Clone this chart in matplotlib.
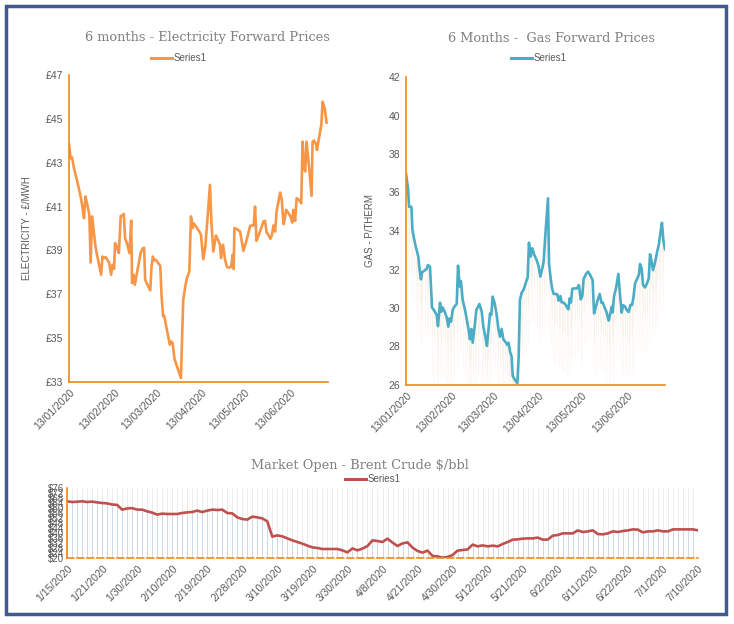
import pandas as pd
import matplotlib.pyplot as plt
import matplotlib.dates as mdates
from matplotlib.patches import Rectangle
from matplotlib.lines import Line2D
import numpy as np

# electricity forward prices (days after 13/01/2020, £/MWh)
elec_day = [0.0, 1.1, 2.1, 3.4, 5.7, 8.0, 9.2, 10.3, 11.3, 12.6, 14.0, 14.9, 15.9, 17.2, 18.2,
            19.5, 20.7, 22.1, 23.0, 24.1, 25.3, 26.4, 27.6, 29.0, 29.9, 31.0, 31.7, 32.9, 34.3,
            35.6, 36.8, 37.7, 38.6, 40.2, 41.6, 42.8, 43.4, 44.4, 45.3, 46.7, 48.0, 49.4, 50.8,
            51.7, 52.4, 54.0, 55.9, 56.8, 57.7, 58.6, 59.8, 61.4, 62.8, 63.7, 64.8, 65.5, 67.1,
            68.5, 69.4, 70.1, 71.3, 72.6, 74.7, 77.0, 78.6, 80.0, 81.1, 82.8, 83.9, 85.1, 85.7,
            87.4, 89.7, 90.8, 92.4, 93.8, 95.4, 97.0, 97.9, 99.3, 101.1, 102.5, 103.9, 104.6,
            106.0, 107.4, 108.7, 110.3, 111.5, 112.6, 113.3, 113.8, 115.6, 117.7, 120.0, 121.4,
            123.0, 124.6, 126.0, 127.1, 128.0, 129.0, 130.6, 132.2, 133.8, 134.9, 135.9, 137.2,
            138.6, 139.5, 140.7, 141.8, 142.8, 144.1, 145.3, 146.4, 147.6, 148.3, 149.4, 151.0,
            152.4, 153.6, 154.3, 155.6, 156.6, 158.2, 159.8, 160.7, 161.6, 162.5, 163.4, 165.3,
            166.9, 167.6, 168.5, 169.9, 170.6, 171.7, 173.6, 174.5, 175.9, 177.2]
elec_price = [43.86, 43.20, 43.25, 42.75, 42.14, 41.46, 41.00, 40.47, 41.46, 41.08, 40.62, 38.45,
              40.55, 39.79, 39.18, 38.72, 38.34, 37.89, 38.72, 38.65, 38.69, 38.57, 38.45, 37.89,
              38.34, 38.16, 39.33, 39.18, 38.88, 40.58, 40.58, 40.67, 39.56, 39.26, 38.88, 40.36,
              37.51, 37.89, 37.43, 37.96, 38.42, 38.91, 39.10, 39.12, 37.66, 37.43, 37.18, 38.27,
              38.72, 38.54, 38.57, 38.42, 38.30, 36.90, 35.99, 36.02, 35.46, 35.00, 34.70, 34.85,
              34.78, 34.05, 33.64, 33.18, 36.75, 37.36, 37.74, 38.04, 40.55, 40.02, 40.24, 40.09,
              39.86, 39.71, 38.60, 39.18, 40.55, 41.99, 40.39, 38.95, 39.68, 39.48, 39.26, 38.65,
              39.26, 38.57, 38.24, 38.22, 38.24, 38.80, 38.15, 40.02, 39.97, 39.86, 38.98, 39.29,
              39.68, 40.12, 40.14, 40.14, 41.00, 39.44, 39.71, 40.02, 40.32, 40.35, 39.83, 39.71,
              39.53, 39.68, 40.14, 39.86, 40.77, 41.23, 41.64, 41.31, 40.20, 40.39, 40.85, 40.70,
              40.55, 40.27, 40.85, 40.35, 41.38, 41.31, 41.15, 43.96, 42.85, 42.60, 43.96, 42.72,
              41.49, 43.96, 44.01, 43.86, 43.58, 44.01, 44.72, 45.78, 45.48, 44.83]

# gas forward prices (days after 13/01/2020, p/therm)
gas_day = [0.0, 1.4, 2.1, 3.7, 4.4, 5.5, 6.7, 7.6, 8.5, 9.4, 10.3, 11.0, 13.1, 14.2, 15.1, 16.5,
           17.9, 19.5, 21.1, 22.0, 23.4, 24.3, 25.2, 26.6, 28.0, 29.1, 30.0, 31.0, 32.1, 33.3,
           34.9, 35.8, 36.9, 37.8, 39.0, 40.6, 41.7, 43.1, 44.0, 45.0, 45.9, 47.2, 48.4, 49.3,
           50.5, 52.1, 53.2, 54.6, 55.7, 56.7, 57.8, 58.7, 59.6, 61.0, 62.4, 63.5, 64.7, 65.8,
           67.0, 68.3, 69.7, 70.6, 71.6, 72.7, 73.4, 75.0, 76.6, 77.5, 78.4, 79.6, 81.0, 82.3,
           83.7, 84.6, 85.8, 86.9, 88.3, 89.9, 91.3, 92.4, 93.8, 94.7, 96.1, 97.7, 98.4, 99.5,
           100.5, 101.6, 102.8, 104.1, 105.0, 106.2, 107.1, 108.3, 109.6, 110.8, 111.7, 112.6,
           113.5, 114.4, 116.3, 117.7, 119.0, 120.2, 121.3, 122.2, 123.9, 125.2, 126.6, 128.4,
           129.4, 130.7, 131.9, 133.3, 134.4, 135.3, 136.7, 138.1, 139.4, 140.6, 141.5, 142.2,
           143.1, 144.5, 146.1, 147.2, 148.4, 149.3, 150.5, 151.8, 153.2, 154.4, 155.5, 156.4,
           157.6, 159.2, 160.3, 161.0, 162.2, 163.1, 164.4, 165.8, 167.0, 167.9, 169.0, 169.9,
           171.1, 172.0, 172.9, 173.9, 175.0, 176.1, 177.1, 178.2]
gas_price = [36.96, 36.22, 35.26, 35.26, 34.09, 33.62, 33.19, 32.93, 32.67, 31.97, 31.49, 31.85,
             31.97, 32.03, 32.23, 32.15, 30.03, 29.86, 29.64, 29.06, 30.28, 29.81, 30.03, 29.81,
             29.52, 29.03, 29.46, 29.29, 29.90, 30.07, 30.21, 32.20, 31.11, 31.40, 30.42, 29.90,
             29.46, 28.86, 28.37, 28.91, 28.20, 29.03, 29.90, 30.03, 30.21, 29.81, 29.03, 28.51,
             28.03, 28.86, 29.72, 29.64, 30.59, 30.24, 29.64, 28.94, 28.51, 28.91, 28.37, 28.25,
             28.08, 28.20, 27.73, 27.47, 26.47, 26.26, 26.09, 27.44, 30.42, 30.80, 30.97, 31.28,
             31.59, 33.39, 32.67, 33.10, 32.75, 32.49, 32.15, 31.63, 32.06, 32.41, 34.05, 35.70,
             32.32, 31.54, 31.02, 30.73, 30.73, 30.71, 30.38, 30.62, 30.29, 30.29, 30.19, 30.03,
             29.93, 30.50, 30.29, 31.00, 31.02, 31.02, 31.19, 30.45, 30.62, 31.51, 31.77, 31.89,
             31.73, 31.45, 29.72, 30.07, 30.42, 30.73, 30.28, 30.29, 30.03, 29.76, 29.34, 29.72,
             30.07, 29.77, 30.59, 31.02, 31.77, 30.73, 29.76, 30.14, 30.10, 29.90, 29.79, 30.16,
             30.16, 30.50, 31.28, 31.54, 31.75, 32.29, 32.03, 31.19, 31.07, 31.28, 31.54, 32.79,
             32.41, 31.97, 32.29, 32.61, 32.96, 33.27, 33.88, 34.43, 33.50, 33.05]

# brent crude at market open, $/bbl
brent = [65.4, 64.8, 65.0, 65.4, 64.8, 65.1, 64.5, 64.0, 63.7, 62.8, 62.5, 58.7, 59.6, 59.9,
         58.7, 58.7, 57.3, 56.3, 54.7, 55.5, 55.2, 55.2, 55.2, 56.0, 56.5, 56.8, 57.9, 56.8,
         57.9, 58.7, 58.4, 58.7, 56.0, 55.7, 52.5, 51.2, 50.7, 53.1, 52.5, 51.7, 49.3, 37.1,
         38.1, 37.3, 35.7, 34.1, 32.8, 31.5, 29.9, 28.5, 28.0, 27.2, 27.2, 27.2, 27.2, 26.1,
         24.5, 27.7, 26.1, 27.5, 29.6, 34.1, 33.6, 32.8, 35.5, 32.3, 29.6, 31.7, 32.5, 28.3,
         25.6, 24.3, 25.9, 21.6, 21.3, 20.3, 20.8, 22.4, 25.9, 26.4, 26.9, 30.7, 29.3, 30.1,
         29.3, 29.9, 29.3, 31.2, 32.8, 34.7, 34.9, 35.5, 35.7, 35.7, 36.3, 34.7, 34.7, 37.9,
         38.4, 39.7, 39.7, 39.7, 42.1, 40.8, 41.3, 42.1, 39.2, 38.9, 39.7, 41.3, 40.8, 41.6,
         42.1, 42.9, 42.7, 40.5, 41.3, 41.3, 42.1, 41.3, 41.3, 42.9, 42.9, 42.9, 42.9, 42.9,
         42.1]
brent_labels = ['1/15/2020', '1/21/2020', '1/30/2020', '2/10/2020', '2/19/2020', '2/28/2020',
                '3/10/2020', '3/19/2020', '3/30/2020', '4/8/2020', '4/21/2020', '4/30/2020',
                '5/12/2020', '5/21/2020', '6/2/2020', '6/11/2020', '6/22/2020', '7/1/2020',
                '7/10/2020']

start = pd.Timestamp('2020-01-13')
elec_dates = start + pd.to_timedelta(elec_day, unit='D')
gas_dates = start + pd.to_timedelta(gas_day, unit='D')
month_ticks = pd.date_range('2020-01-13', periods=6, freq=pd.DateOffset(months=1))
x_end = start + pd.Timedelta(days=178.2)

plt.rcParams['font.family'] = ['Liberation Sans', 'DejaVu Sans']
grey_txt = '#595959'
title_col = '#808080'
axis_orange = '#ee8a12'

fig = plt.figure(figsize=(7.34, 6.24), dpi=100)
W, H = 734, 624
fig.patches.append(Rectangle((6 / W, 1 - 614 / H), 720 / W, 608 / H, transform=fig.transFigure,
                             fill=False, edgecolor='#3d5d8f', linewidth=2.5))


def px_axes(l, t, r, b):
    return fig.add_axes([l / W, 1 - b / H, (r - l) / W, (b - t) / H])


def style(ax, dashed=False):
    for s in ['top', 'right']:
        ax.spines[s].set_visible(False)
    ax.spines['left'].set_color(axis_orange)
    ax.spines['bottom'].set_color(axis_orange)
    ax.spines['left'].set_linewidth(1.2)
    ax.spines['bottom'].set_linewidth(1.2)
    if dashed:
        ax.spines['bottom'].set_linestyle((0, (4, 2)))
    ax.tick_params(length=0, labelsize=7.5, labelcolor=grey_txt, pad=4)


def legend_at(x, y, color):
    fig.add_artist(Line2D([(x - 22) / W, (x - 1) / W], [1 - y / H, 1 - y / H], color=color, lw=2.2))
    fig.text((x + 1) / W, 1 - y / H, 'Series1', fontsize=7, color=grey_txt, va='center', ha='left')


# electricity
ax1 = px_axes(69, 75, 328, 382)
ax1.plot(elec_dates, elec_price, color='#f79646', lw=1.9)
ax1.set_ylim(33, 47)
ax1.set_yticks(range(33, 48, 2))
ax1.set_yticklabels(['£%d' % v for v in range(33, 48, 2)])
ax1.set_xlim(start, x_end)
ax1.set_xticks(month_ticks)
ax1.xaxis.set_major_formatter(mdates.DateFormatter('%d/%m/%Y'))
plt.setp(ax1.get_xticklabels(), rotation=45, ha='right', rotation_mode='anchor')
ax1.set_ylabel('ELECTRICITY - £/MWH', fontsize=7, color=grey_txt, labelpad=10)
style(ax1)
fig.text(207 / W, 1 - 37 / H, '6 months - Electricity Forward Prices', fontsize=9.3,
         family='DejaVu Serif', color=title_col, ha='center', va='center')
legend_at(173, 58, '#f79646')

# gas
ax2 = px_axes(406, 77, 665, 385)
for d, v in zip(gas_dates, gas_price):
    ax2.plot([d, d], [v, v - 1.5], color='#f3dcc6', lw=0.6, alpha=0.4)
    ax2.plot([d, d], [v - 1.5, v - 3.5], color='#f3dcc6', lw=0.6, alpha=0.18)
ax2.plot(gas_dates, gas_price, color='#4bacc6', lw=1.9)
ax2.set_ylim(26, 42)
ax2.set_yticks(range(26, 43, 2))
ax2.set_xlim(start, x_end)
ax2.set_xticks(month_ticks)
ax2.xaxis.set_major_formatter(mdates.DateFormatter('%d/%m/%Y'))
plt.setp(ax2.get_xticklabels(), rotation=45, ha='right', rotation_mode='anchor')
ax2.set_ylabel('GAS - P/THERM', fontsize=7, color=grey_txt, labelpad=10)
style(ax2)
fig.text(552 / W, 1 - 38 / H, '6 Months -  Gas Forward Prices', fontsize=9.3,
         family='DejaVu Serif', color=title_col, ha='center', va='center')
legend_at(533, 58, '#4bacc6')

# brent
ax3 = px_axes(67, 488, 698, 558)
xb = np.arange(len(brent))
ax3.vlines(xb, brent, 76, color='#ebebeb', lw=0.7)
ax3.vlines(xb, 20, brent, color='#ccd9e8', lw=0.7)
ax3.plot(xb, brent, color='#c0504d', lw=1.9)
ax3.set_ylim(20, 76)
ax3.set_yticks(range(20, 77, 4))
ax3.set_yticklabels(['$%d' % v for v in range(20, 77, 4)])
ax3.set_xlim(0, len(brent) - 1)
ax3.set_xticks(xb[::7])
ax3.set_xticklabels(brent_labels, rotation=45, ha='right', rotation_mode='anchor')
style(ax3, dashed=True)
ax3.tick_params(axis='y', pad=2, labelsize=7)
fig.text(360 / W, 1 - 465 / H, 'Market Open - Brent Crude $/bbl', fontsize=9.3,
         family='DejaVu Serif', color=title_col, ha='center', va='center')
legend_at(367, 479, '#c0504d')

fig.savefig('out.png', dpi=100)
